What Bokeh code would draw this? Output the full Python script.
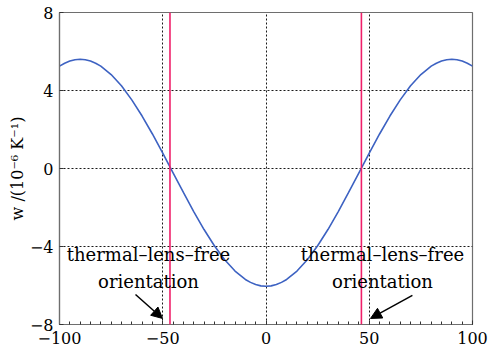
from bokeh.plotting import figure
from bokeh.models import Label, Arrow, NormalHead, FixedTicker, Span
from bokeh.embed import file_html
from bokeh.resources import INLINE

# ---- data ----
theta = [-100, -97.5, -95, -92.5, -90, -87.5, -85, -82.5, -80, -75, -70, -65, -60, -55, -50, -45, -40, -35,
         -30, -25, -20, -15, -10, -7.5, -5, -2.5, 0, 2.5, 5, 7.5, 10, 15, 20, 25, 30, 35, 40, 45, 50, 55,
         60, 65, 70, 75, 80, 82.5, 85, 87.5, 90, 92.5, 95, 97.5, 100]
w_vals = [5.25, 5.40, 5.51, 5.58, 5.60, 5.58, 5.51, 5.40, 5.25, 4.82, 4.24, 3.52, 2.69, 1.77, 0.79, -0.22,
          -1.23, -2.21, -3.13, -3.96, -4.68, -5.26, -5.69, -5.84, -5.95, -6.02, -6.04, -6.02, -5.95, -5.84,
          -5.69, -5.26, -4.68, -3.96, -3.13, -2.21, -1.23, -0.22, 0.79, 1.77, 2.69, 3.52, 4.24, 4.82, 5.25,
          5.40, 5.51, 5.58, 5.60, 5.58, 5.51, 5.40, 5.25]
free_orient = [-46.5, 46.2]
x_ticks = [-100, -50, 0, 50, 100]
x_tick_labels = ["\u2212100", "\u221250", "0", "50", "100"]
y_ticks = [-8, -4, 0, 4, 8]
y_tick_labels = ["\u22128", "\u22124", "0", "4", "8"]
y_label = "w /(10\u207b\u2076 K\u207b\u00b9)"
note_line1 = "thermal\u2013lens\u2013free"
note_line2 = "orientation"
note_x = [-56.9, 56.4]
arrow_start = [(-63.2, -6.46), (70.9, -6.51)]
arrow_end = [(-50.1, -7.69), (50.6, -7.69)]

FONT = "DejaVu Serif"

p = figure(frame_width=413, frame_height=312, width=490, height=353,
           x_range=(-100, 100), y_range=(-8, 8),
           output_backend="svg", toolbar_location=None,
           min_border_left=59, min_border_right=18, min_border_top=12, min_border_bottom=29)
p.outline_line_color = "#6e6e6e"
p.outline_line_width = 1.2
p.background_fill_color = "white"
p.border_fill_color = "white"

for ax in (p.xaxis[0], p.yaxis[0]):
    ax.axis_line_color = "#6e6e6e"
    ax.axis_line_width = 1.2
    ax.major_tick_line_color = "#333333"
    ax.minor_tick_line_color = "#333333"
    ax.major_tick_out = 0
    ax.minor_tick_out = 0
    ax.major_label_text_font = FONT
    ax.major_label_text_font_size = "16px"
    ax.major_label_text_color = "black"

p.xaxis.ticker = FixedTicker(ticks=x_ticks, minor_ticks=list(range(-100, 101, 5)))
p.xaxis.major_label_overrides = dict(zip(x_ticks, x_tick_labels))
p.xaxis.major_tick_in = 4
p.xaxis.minor_tick_in = 3
p.xaxis.major_label_standoff = 7

p.yaxis.ticker = FixedTicker(ticks=y_ticks)
p.yaxis.major_label_overrides = dict(zip(y_ticks, y_tick_labels))
p.yaxis.major_tick_in = 4
p.yaxis.minor_tick_in = 0
p.yaxis.major_label_standoff = 6
p.yaxis.axis_label = y_label
p.yaxis.axis_label_text_font = FONT
p.yaxis.axis_label_text_font_style = "normal"
p.yaxis.axis_label_text_font_size = "16px"
p.yaxis.axis_label_text_color = "black"
p.yaxis.axis_label_standoff = 0

for g in (p.xgrid[0], p.ygrid[0]):
    g.grid_line_color = "black"
    g.grid_line_dash = "2 2"
    g.grid_line_width = 1
    g.grid_line_alpha = 0.9

# curve
p.line(theta, w_vals, line_color="#3d62c2", line_width=1.6)

# thermal-lens-free orientation lines
for xv in free_orient:
    p.add_layout(Span(location=xv, dimension="height", line_color="#f0206a", line_width=1.6))

# annotations
for nx in note_x:
    p.add_layout(Label(x=nx, y=-4.4, text=note_line1, text_align="center", text_baseline="middle",
                       text_font=FONT, text_font_size="18px", text_color="black"))
    p.add_layout(Label(x=nx, y=-5.8, text=note_line2, text_align="center", text_baseline="middle",
                       text_font=FONT, text_font_size="18px", text_color="black"))
for (xs, ys), (xe, ye) in zip(arrow_start, arrow_end):
    p.add_layout(Arrow(x_start=xs, y_start=ys, x_end=xe, y_end=ye, line_color="black", line_width=1.5,
                       end=NormalHead(size=11, fill_color="black", line_color="black")))

open("out.html", "w").write(file_html(p, INLINE))
